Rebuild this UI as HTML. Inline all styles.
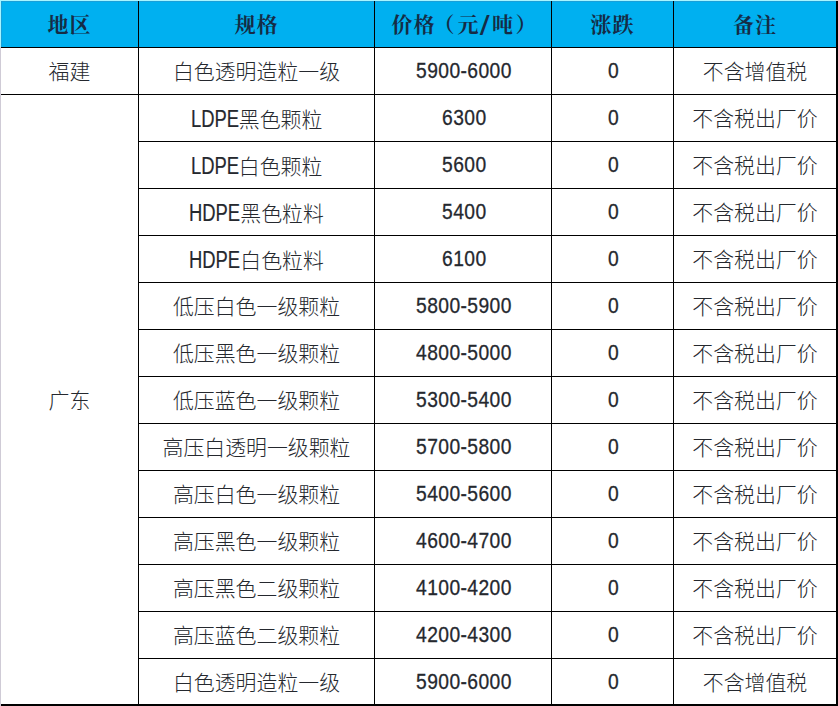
<!DOCTYPE html>
<html lang="zh-CN"><head><meta charset="utf-8"><title>价格表</title>
<style>
html,body{margin:0;padding:0;background:#fff;}
body{width:838px;height:706px;position:relative;overflow:hidden;
 font-family:"Liberation Sans","Noto Sans CJK SC",sans-serif;}
.t{position:absolute;left:0;top:0;width:838px;height:706px;}
.c{position:absolute;display:flex;align-items:center;justify-content:center;white-space:nowrap;
 font-size:20.9px;line-height:30px;color:#25282e;font-weight:300;letter-spacing:0px;}
.h{font-family:"Liberation Serif","Noto Serif CJK SC",serif;font-weight:700;font-size:21px;color:#152c46;letter-spacing:1px;}
.l{position:absolute;background:#000;}
.hb{position:absolute;left:0;top:0;width:838px;height:47px;background:#00b0f0;}
.n{position:relative;top:-0.5px;left:0.6px}
.s{position:relative;top:1px}
.hs{position:relative;top:1px}
.la{-webkit-text-stroke:0.2px currentColor;display:inline-block;font-size:23px;line-height:30px;font-weight:400;letter-spacing:0;transform:scaleX(0.8);transform-origin:0 50%;position:relative;top:0px}
.dg{-webkit-text-stroke:0.3px currentColor;display:inline-block;font-size:22px;line-height:30px;font-weight:400;letter-spacing:0.48px;transform:scaleX(0.875);transform-origin:0 50%;}
.sl{display:inline-block;width:12.5px;height:20px;line-height:20px;vertical-align:middle;text-align:center;letter-spacing:0;font-family:"Liberation Sans",sans-serif;font-weight:400;font-size:27px;position:relative;top:-1px;left:-0.8px}
.sl span{display:inline-block;transform:scaleX(1.32);}
.lp{margin-left:-2px;margin-right:2px}
.rp{margin-left:1.5px}
</style></head><body><div class="t">
<div class="hb"></div>
<div class="l" style="left:1px;top:1px;width:837px;height:1px;background:#1a9fd8"></div>
<div class="l" style="left:1px;top:1px;width:1px;height:46px;background:#1a9fd8"></div>

<div class="c h" style="left:1px;top:0;width:137px;height:47px"><span class="hs">地区</span></div>
<div class="c h" style="left:139px;top:0;width:235px;height:47px"><span class="hs">规格</span></div>
<div class="c h" style="left:375px;top:0;width:176px;height:47px"><span class="hs" style="padding-left:3px">价格<span class="lp">（</span>元<span class="sl"><span>/</span></span>吨<span class="rp">）</span></span></div>
<div class="c h" style="left:552px;top:0;width:121px;height:47px"><span class="hs">涨跌</span></div>
<div class="c h" style="left:674px;top:0;width:162px;height:47px"><span class="hs">备注</span></div>
<div class="c" style="left:1px;top:48px;width:137px;height:46px"><span class="s">福建</span></div>
<div class="c" style="left:1px;top:95px;width:137px;height:609px"><span class="s">广东</span></div>
<div class="c" style="left:139px;top:48px;width:235px;height:46px"><span class="s">白色透明造粒一级</span></div>
<div class="c" style="left:375px;top:48px;width:176px;height:46px"><span class="n"><span class="dg" style="margin-right:-14.111px">5900-6000</span></span></div>
<div class="c" style="left:552px;top:48px;width:121px;height:46px"><span class="n"><span class="dg" style="margin-right:-2.009px">0</span></span></div>
<div class="c" style="left:674px;top:48px;width:162px;height:46px"><span class="s">不含增值税</span></div>
<div class="c" style="left:139px;top:95px;width:235px;height:46px"><span class="s"><span class="la" style="margin-right:-0.5225em">LDPE</span>黑色颗粒</span></div>
<div class="c" style="left:375px;top:95px;width:176px;height:46px"><span class="n"><span class="dg" style="margin-right:-6.778px">6300</span></span></div>
<div class="c" style="left:552px;top:95px;width:121px;height:46px"><span class="n"><span class="dg" style="margin-right:-2.009px">0</span></span></div>
<div class="c" style="left:674px;top:95px;width:162px;height:46px"><span class="s">不含税出厂价</span></div>
<div class="c" style="left:139px;top:142px;width:235px;height:46px"><span class="s"><span class="la" style="margin-right:-0.5225em">LDPE</span>白色颗粒</span></div>
<div class="c" style="left:375px;top:142px;width:176px;height:46px"><span class="n"><span class="dg" style="margin-right:-6.778px">5600</span></span></div>
<div class="c" style="left:552px;top:142px;width:121px;height:46px"><span class="n"><span class="dg" style="margin-right:-2.009px">0</span></span></div>
<div class="c" style="left:674px;top:142px;width:162px;height:46px"><span class="s">不含税出厂价</span></div>
<div class="c" style="left:139px;top:189px;width:235px;height:46px"><span class="s"><span class="la" style="margin-right:-0.5557em">HDPE</span>黑色粒料</span></div>
<div class="c" style="left:375px;top:189px;width:176px;height:46px"><span class="n"><span class="dg" style="margin-right:-6.778px">5400</span></span></div>
<div class="c" style="left:552px;top:189px;width:121px;height:46px"><span class="n"><span class="dg" style="margin-right:-2.009px">0</span></span></div>
<div class="c" style="left:674px;top:189px;width:162px;height:46px"><span class="s">不含税出厂价</span></div>
<div class="c" style="left:139px;top:236px;width:235px;height:46px"><span class="s"><span class="la" style="margin-right:-0.5557em">HDPE</span>白色粒料</span></div>
<div class="c" style="left:375px;top:236px;width:176px;height:46px"><span class="n"><span class="dg" style="margin-right:-6.778px">6100</span></span></div>
<div class="c" style="left:552px;top:236px;width:121px;height:46px"><span class="n"><span class="dg" style="margin-right:-2.009px">0</span></span></div>
<div class="c" style="left:674px;top:236px;width:162px;height:46px"><span class="s">不含税出厂价</span></div>
<div class="c" style="left:139px;top:283px;width:235px;height:46px"><span class="s">低压白色一级颗粒</span></div>
<div class="c" style="left:375px;top:283px;width:176px;height:46px"><span class="n"><span class="dg" style="margin-right:-14.111px">5800-5900</span></span></div>
<div class="c" style="left:552px;top:283px;width:121px;height:46px"><span class="n"><span class="dg" style="margin-right:-2.009px">0</span></span></div>
<div class="c" style="left:674px;top:283px;width:162px;height:46px"><span class="s">不含税出厂价</span></div>
<div class="c" style="left:139px;top:330px;width:235px;height:46px"><span class="s">低压黑色一级颗粒</span></div>
<div class="c" style="left:375px;top:330px;width:176px;height:46px"><span class="n"><span class="dg" style="margin-right:-14.111px">4800-5000</span></span></div>
<div class="c" style="left:552px;top:330px;width:121px;height:46px"><span class="n"><span class="dg" style="margin-right:-2.009px">0</span></span></div>
<div class="c" style="left:674px;top:330px;width:162px;height:46px"><span class="s">不含税出厂价</span></div>
<div class="c" style="left:139px;top:377px;width:235px;height:46px"><span class="s">低压蓝色一级颗粒</span></div>
<div class="c" style="left:375px;top:377px;width:176px;height:46px"><span class="n"><span class="dg" style="margin-right:-14.111px">5300-5400</span></span></div>
<div class="c" style="left:552px;top:377px;width:121px;height:46px"><span class="n"><span class="dg" style="margin-right:-2.009px">0</span></span></div>
<div class="c" style="left:674px;top:377px;width:162px;height:46px"><span class="s">不含税出厂价</span></div>
<div class="c" style="left:139px;top:424px;width:235px;height:46px"><span class="s">高压白透明一级颗粒</span></div>
<div class="c" style="left:375px;top:424px;width:176px;height:46px"><span class="n"><span class="dg" style="margin-right:-14.111px">5700-5800</span></span></div>
<div class="c" style="left:552px;top:424px;width:121px;height:46px"><span class="n"><span class="dg" style="margin-right:-2.009px">0</span></span></div>
<div class="c" style="left:674px;top:424px;width:162px;height:46px"><span class="s">不含税出厂价</span></div>
<div class="c" style="left:139px;top:471px;width:235px;height:46px"><span class="s">高压白色一级颗粒</span></div>
<div class="c" style="left:375px;top:471px;width:176px;height:46px"><span class="n"><span class="dg" style="margin-right:-14.111px">5400-5600</span></span></div>
<div class="c" style="left:552px;top:471px;width:121px;height:46px"><span class="n"><span class="dg" style="margin-right:-2.009px">0</span></span></div>
<div class="c" style="left:674px;top:471px;width:162px;height:46px"><span class="s">不含税出厂价</span></div>
<div class="c" style="left:139px;top:518px;width:235px;height:46px"><span class="s">高压黑色一级颗粒</span></div>
<div class="c" style="left:375px;top:518px;width:176px;height:46px"><span class="n"><span class="dg" style="margin-right:-14.111px">4600-4700</span></span></div>
<div class="c" style="left:552px;top:518px;width:121px;height:46px"><span class="n"><span class="dg" style="margin-right:-2.009px">0</span></span></div>
<div class="c" style="left:674px;top:518px;width:162px;height:46px"><span class="s">不含税出厂价</span></div>
<div class="c" style="left:139px;top:565px;width:235px;height:46px"><span class="s">高压黑色二级颗粒</span></div>
<div class="c" style="left:375px;top:565px;width:176px;height:46px"><span class="n"><span class="dg" style="margin-right:-14.111px">4100-4200</span></span></div>
<div class="c" style="left:552px;top:565px;width:121px;height:46px"><span class="n"><span class="dg" style="margin-right:-2.009px">0</span></span></div>
<div class="c" style="left:674px;top:565px;width:162px;height:46px"><span class="s">不含税出厂价</span></div>
<div class="c" style="left:139px;top:612px;width:235px;height:46px"><span class="s">高压蓝色二级颗粒</span></div>
<div class="c" style="left:375px;top:612px;width:176px;height:46px"><span class="n"><span class="dg" style="margin-right:-14.111px">4200-4300</span></span></div>
<div class="c" style="left:552px;top:612px;width:121px;height:46px"><span class="n"><span class="dg" style="margin-right:-2.009px">0</span></span></div>
<div class="c" style="left:674px;top:612px;width:162px;height:46px"><span class="s">不含税出厂价</span></div>
<div class="c" style="left:139px;top:659px;width:235px;height:46px"><span class="s">白色透明造粒一级</span></div>
<div class="c" style="left:375px;top:659px;width:176px;height:46px"><span class="n"><span class="dg" style="margin-right:-14.111px">5900-6000</span></span></div>
<div class="c" style="left:552px;top:659px;width:121px;height:46px"><span class="n"><span class="dg" style="margin-right:-2.009px">0</span></span></div>
<div class="c" style="left:674px;top:659px;width:162px;height:46px"><span class="s">不含增值税</span></div>
<div class="l" style="left:138px;top:0;width:1px;height:706px"></div>
<div class="l" style="left:374px;top:0;width:1px;height:706px"></div>
<div class="l" style="left:551px;top:0;width:1px;height:706px"></div>
<div class="l" style="left:673px;top:0;width:1px;height:706px"></div>
<div class="l" style="left:836px;top:0;width:2px;height:706px"></div>
<div class="l" style="left:0px;top:47px;width:838px;height:1px"></div>
<div class="l" style="left:0px;top:94px;width:838px;height:1px"></div>
<div class="l" style="left:138px;top:141px;width:700px;height:1px"></div>
<div class="l" style="left:138px;top:188px;width:700px;height:1px"></div>
<div class="l" style="left:138px;top:235px;width:700px;height:1px"></div>
<div class="l" style="left:138px;top:282px;width:700px;height:1px"></div>
<div class="l" style="left:138px;top:329px;width:700px;height:1px"></div>
<div class="l" style="left:138px;top:376px;width:700px;height:1px"></div>
<div class="l" style="left:138px;top:423px;width:700px;height:1px"></div>
<div class="l" style="left:138px;top:470px;width:700px;height:1px"></div>
<div class="l" style="left:138px;top:517px;width:700px;height:1px"></div>
<div class="l" style="left:138px;top:564px;width:700px;height:1px"></div>
<div class="l" style="left:138px;top:611px;width:700px;height:1px"></div>
<div class="l" style="left:138px;top:658px;width:700px;height:1px"></div>
<div class="l" style="left:0;top:704px;width:838px;height:2px"></div>
<div class="l" style="left:0;top:0;width:838px;height:1px;background:#a8f4ff"></div>
<div class="l" style="left:836px;top:0;width:2px;height:1px;background:#ecd6c8"></div>
<div class="l" style="left:0;top:0;width:1px;height:47px;background:#a8f4ff"></div>
<div class="l" style="left:0;top:47px;width:1px;height:659px;background:#cfcbd6"></div>
</div></body></html>
